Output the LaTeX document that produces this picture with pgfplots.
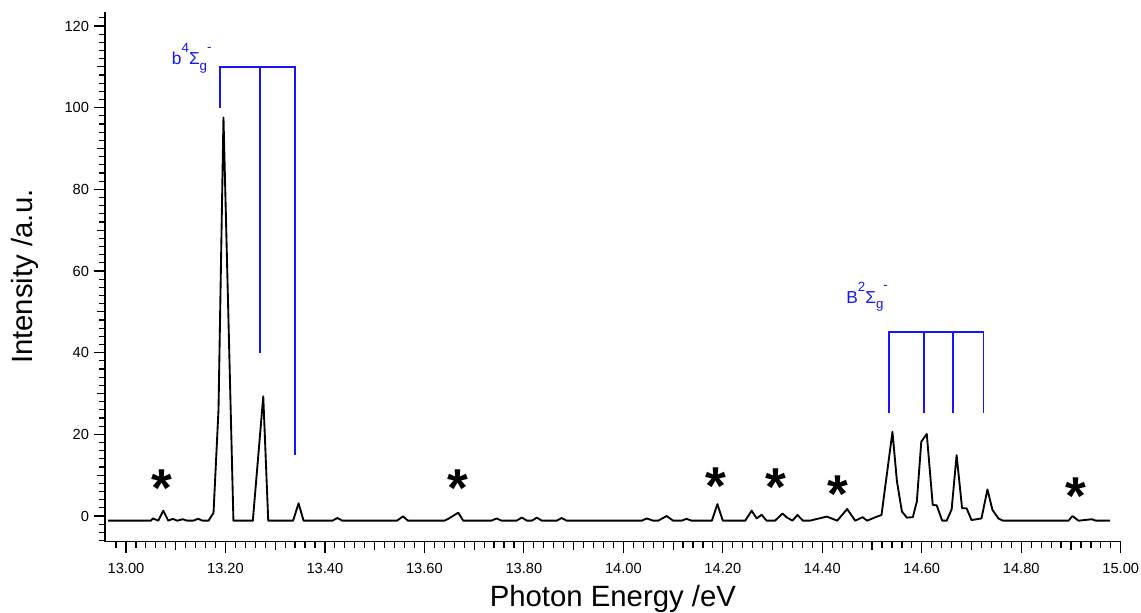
\documentclass[border=0pt]{standalone}
\usepackage{fontspec}
\setmainfont{Liberation Sans}
\usepackage{pgfplots}
\pgfplotsset{compat=1.18}
\definecolor{annblue}{RGB}{20,20,255}
\newcommand{\smallf}{\fontsize{10}{10}\selectfont}

\begin{document}
\begin{tikzpicture}
\begin{axis}[
    scale only axis,
    width=761.8pt, height=397.5pt,
    xmin=12.9578, xmax=15, ymin=-6.3, ymax=123.5,
    axis lines*=left,
    axis line style={line width=1.1pt},
    tick align=outside,
    every tick/.style={black, line width=0.9pt},
    major tick length=8.25pt,
    minor tick length=4.5pt,
    xtick={13,13.2,13.4,13.6,13.8,14,14.2,14.4,14.6,14.8,15},
    minor xtick={12.98,13.00,...,15.00},
    extra x ticks={13.1,13.3,13.5,13.7,13.9,14.1,14.3,14.5,14.7,14.9},
    extra x tick labels={},
    extra x tick style={major tick length=6pt},
    ytick={0,20,...,120},
    minor ytick={-6,-4,...,122},
    extra y ticks={10,30,50,70,90,110},
    extra y tick labels={},
    extra y tick style={major tick length=6.2pt},
    /pgf/number format/assume math mode=true,
    tick label style={font=\fontsize{11}{13}\selectfont},
    xticklabel style={/pgf/number format/fixed, /pgf/number format/fixed zerofill,
        /pgf/number format/precision=2, anchor=north, inner sep=0pt, yshift=-7.75pt},
    yticklabel style={anchor=east, inner sep=0pt, xshift=-3.55pt},
    xlabel={Photon Energy /eV},
    ylabel={Intensity /a.u.},
    label style={font=\fontsize{22}{26}\selectfont},
    xlabel style={at={(axis description cs:0.5,-0.1226)}, anchor=base},
    ylabel style={at={(axis description cs:-0.0709,0.5)}, anchor=base},
    clip=false,
]
\coordinate (bl) at (rel axis cs:0,0);

% spectrum
\addplot[black, line width=1.4pt, line join=round, mark=none] coordinates {
(12.964,-1.15) (13.050,-1.15) (13.054,-0.6) (13.065,-1.15) (13.075,1.3)
(13.085,-1.15) (13.094,-0.7) (13.103,-1.15) (13.114,-0.8) (13.123,-1.15)
(13.135,-1.15) (13.145,-0.7) (13.154,-1.15) (13.166,-1.15) (13.176,0.8)
(13.186,26) (13.196,97.6) (13.216,-1.15) (13.255,-1.15) (13.276,29.3)
(13.286,-1.15) (13.336,-1.15) (13.347,3.1) (13.357,-1.15) (13.415,-1.15)
(13.425,-0.5) (13.435,-1.15) (13.545,-1.15) (13.557,-0.1) (13.567,-1.15)
(13.640,-1.15) (13.648,-0.7) (13.668,0.8) (13.678,-1.15) (13.735,-1.15)
(13.745,-0.6) (13.755,-1.15) (13.785,-1.15) (13.796,-0.4) (13.806,-1.15)
(13.816,-1.15) (13.826,-0.4) (13.836,-1.15) (13.866,-1.15) (13.876,-0.5)
(13.886,-1.15) (14.037,-1.15) (14.047,-0.6) (14.060,-1.15) (14.070,-1.15)
(14.087,0.0) (14.100,-1.15) (14.117,-1.15) (14.127,-0.7) (14.137,-1.15)
(14.178,-1.15) (14.189,2.9) (14.200,-1.15) (14.245,-1.15) (14.258,1.3)
(14.268,-0.6) (14.278,0.3) (14.288,-1.15) (14.305,-1.15) (14.320,0.6)
(14.328,-0.3) (14.340,-1.15) (14.350,0.25) (14.361,-1.15) (14.375,-1.15)
(14.409,-0.15) (14.430,-1.15) (14.450,1.7) (14.466,-1.15) (14.481,-0.3)
(14.490,-1.15) (14.509,-0.2) (14.519,0.25) (14.541,20.6) (14.550,8.5)
(14.560,1.1) (14.570,-0.4) (14.582,-0.3) (14.590,3.5) (14.599,18.2)
(14.610,20.1) (14.622,2.7) (14.630,2.6) (14.641,-1.15) (14.650,-1.15)
(14.660,1.6) (14.670,14.9) (14.681,1.9) (14.690,1.9) (14.700,-1.0)
(14.720,-0.6) (14.732,6.5) (14.742,1.5) (14.754,-0.6) (14.763,-1.15)
(14.895,-1.15) (14.903,0.0) (14.915,-1.15) (14.942,-0.8) (14.950,-1.15)
(14.978,-1.15)
};

% b4Sigma_g- progression
\addplot[draw=annblue, line width=1.1pt, mark=none] coordinates {
(13.189,100) (13.189,110) (13.340,110) (13.340,15)};
\addplot[draw=annblue, line width=1.1pt, mark=none] coordinates {
(13.2694,110) (13.2694,40)};

% B2Sigma_g- progression
\addplot[draw=annblue, line width=1.1pt, mark=none] coordinates {
(14.534,25.2) (14.534,45.1) (14.724,45.1) (14.724,25.2)};
\addplot[draw=annblue, line width=1.1pt, mark=none] coordinates {
(14.604,45.1) (14.604,25.2)};
\addplot[draw=annblue, line width=1.1pt, mark=none] coordinates {
(14.663,45.1) (14.663,25.2)};

\node[anchor=base west, inner sep=0pt, text=annblue, font=\fontsize{13}{15}\selectfont]
  at (axis cs:13.0919,110.5) {b\raisebox{9pt}{\smallf 4}Σ\raisebox{-4pt}{\smallf g}\raisebox{10pt}{\smallf -}};
\node[anchor=base west, inner sep=0pt, text=annblue, font=\fontsize{13}{15}\selectfont]
  at (axis cs:14.4477,52.1) {B\raisebox{9pt}{\smallf 2}Σ\raisebox{-4pt}{\smallf g}\raisebox{10pt}{\smallf -}};

% asterisks
\node[anchor=north, inner sep=0pt, font=\fontsize{40}{40}\bfseries\selectfont] at (axis cs:13.072,11.3) {*};
\node[anchor=north, inner sep=0pt, font=\fontsize{40}{40}\bfseries\selectfont] at (axis cs:13.668,11.3) {*};
\node[anchor=north, inner sep=0pt, font=\fontsize{40}{40}\bfseries\selectfont] at (axis cs:14.186,11.9) {*};
\node[anchor=north, inner sep=0pt, font=\fontsize{40}{40}\bfseries\selectfont] at (axis cs:14.306,11.5) {*};
\node[anchor=north, inner sep=0pt, font=\fontsize{40}{40}\bfseries\selectfont] at (axis cs:14.431,9.9) {*};
\node[anchor=north, inner sep=0pt, font=\fontsize{40}{40}\bfseries\selectfont] at (axis cs:14.910,9.5) {*};
\end{axis}
\pgfresetboundingbox
\path ([shift={(-78.75pt,-53.475pt)}]bl) rectangle ++(855.75pt,459.75pt);
\end{tikzpicture}
\end{document}
